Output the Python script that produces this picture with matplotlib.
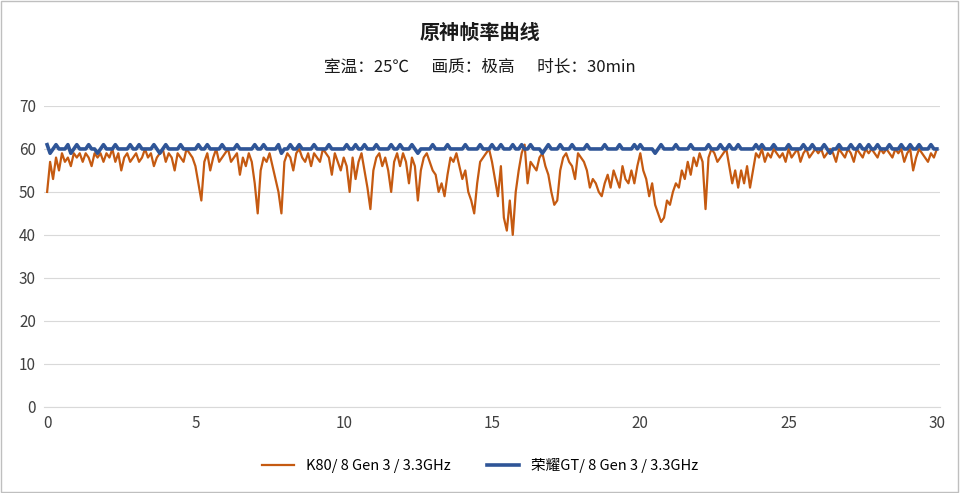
import matplotlib
matplotlib.use("Agg")
import matplotlib.pyplot as plt
import numpy as np

plt.rcParams['font.family'] = ['Noto Sans CJK SC', 'DejaVu Sans']

title = "原神帧率曲线"
subtitle = "室温：25℃      画质：极高      时长：30min"
label_k80 = "K80/ 8 Gen 3 / 3.3GHz"
label_gt = "荣耀GT/ 8 Gen 3 / 3.3GHz"

k80 = [
 50,57,53,58,55,59,57,58,56,59,
 58,59,57,59,58,56,59,58,59,57,
 59,58,60,57,59,55,58,59,57,58,
 59,57,58,60,58,59,56,58,59,60,
 57,59,58,55,59,58,57,60,59,58,
 56,52,48,57,59,55,58,60,57,58,
 59,60,57,58,59,54,58,56,59,57,
 52,45,55,58,57,59,56,53,50,45,
 57,59,58,55,59,60,58,57,59,56,
 59,58,57,60,59,58,54,59,57,55,
 58,56,50,58,53,57,59,55,51,46,
 55,58,59,56,58,55,50,57,59,56,
 59,57,52,58,56,48,55,58,59,57,
 55,54,50,52,49,54,58,57,59,56,
 53,55,50,48,45,52,57,58,59,60,
 57,53,49,56,44,41,48,40,50,55,
 59,61,52,57,56,55,58,59,56,54,
 50,47,48,55,58,59,57,56,53,59,
 58,57,55,51,53,52,50,49,52,54,
 51,55,53,51,56,53,52,55,52,56,
 59,55,53,49,52,47,45,43,44,48,
 47,50,52,51,55,53,57,54,58,56,
 59,57,46,58,60,59,57,58,59,60,
 56,52,55,51,55,52,56,51,55,59,
 58,60,57,59,58,60,59,58,59,57,
 60,58,59,60,57,59,60,58,59,60,
 59,60,58,59,60,59,57,60,59,58,
 60,59,57,60,59,58,60,59,60,59,
 58,60,59,60,59,58,60,59,60,57,
 59,60,55,58,60,59,58,57,59,58,60,
]
gt = [
 61,59,60,61,60,60,60,61,59,60,
 61,60,60,60,61,60,60,59,60,61,
 60,60,60,61,60,60,60,60,61,60,
 60,61,60,60,60,60,61,60,59,60,
 61,60,60,60,60,61,60,60,60,60,
 60,61,60,60,61,60,60,60,60,61,
 60,60,60,60,61,60,60,60,60,60,
 61,60,60,61,60,60,60,60,61,59,
 60,60,61,60,60,61,60,60,60,60,
 61,60,60,60,60,61,60,60,60,60,
 60,61,60,60,61,60,60,61,60,60,
 60,61,60,60,60,60,61,60,60,61,
 60,60,60,61,60,59,60,60,60,60,
 61,60,60,60,60,61,60,60,60,60,
 60,61,60,60,60,60,61,60,60,60,
 61,60,60,61,60,60,60,61,60,60,
 61,60,60,61,60,60,60,59,60,61,
 60,60,60,61,60,60,60,61,60,60,
 60,60,61,60,60,60,60,60,61,60,
 60,60,60,61,60,60,60,60,61,60,
 61,60,60,60,60,59,60,61,60,60,
 60,60,61,60,60,60,60,61,60,60,
 60,60,60,61,60,60,60,61,60,60,
 61,60,60,61,60,60,60,60,60,61,
 60,61,60,60,60,61,60,60,60,60,
 61,60,60,60,60,61,60,60,61,60,
 60,60,61,60,59,60,60,61,60,60,
 60,61,60,60,61,60,60,61,60,60,
 61,60,60,60,61,60,60,60,61,60,
 60,61,60,60,61,60,60,60,61,60,60,
]
t = np.arange(len(k80)) * 0.1

fig = plt.figure(figsize=(9.6, 4.93), dpi=100)
ax = fig.add_axes([0.046, 0.175, 0.933, 0.61])
ax.plot(t, k80, color='#C55A11', lw=1.6, label=label_k80)
ax.plot(t, gt, color='#2F5597', lw=2.6, label=label_gt)
ax.set_xlim(-0.1, 30.1)
ax.set_ylim(0, 70)
ax.set_xticks(range(0, 31, 5))
ax.set_yticks(range(0, 71, 10))
ax.grid(axis='y', color='#D9D9D9', lw=0.8)
ax.set_axisbelow(True)
for s in ['top', 'right', 'left']:
    ax.spines[s].set_visible(False)
ax.spines['bottom'].set_color('#D9D9D9')
ax.tick_params(length=0, labelsize=11, colors='#404040', pad=6)

fig.text(0.5, 0.935, title, ha='center', va='center', fontsize=14.5, fontweight='bold', color='#1a1a1a')
fig.text(0.5, 0.865, subtitle, ha='center', va='center', fontsize=12, color='#1a1a1a')
fig.legend(loc='center', bbox_to_anchor=(0.5, 0.055), ncol=2, frameon=False, fontsize=10.5,
           handlelength=2.2, columnspacing=2.5)
fig.patches.append(matplotlib.patches.Rectangle((0.001, 0.002), 0.997, 0.995, transform=fig.transFigure,
                                                fill=False, edgecolor='#BFBFBF', lw=1))
fig.savefig('out.png', dpi=100)
